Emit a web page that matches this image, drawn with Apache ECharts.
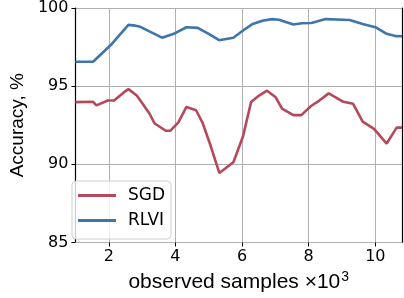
<!DOCTYPE html>
<html>
<head>
<meta charset="utf-8">
<script src="https://cdn.jsdelivr.net/npm/echarts@6/dist/echarts.min.js"></script>
<style>html,body{margin:0;padding:0;background:#fff}#c{width:404px;height:298px}</style>
</head>
<body>
<div id="c"></div>
<script>
const xTicks = [2, 4, 6, 8, 10];
const sgdX = [1.0, 1.53, 1.63, 1.97, 2.16, 2.45, 2.59, 2.84, 2.98, 3.22, 3.37, 3.71, 3.85, 4.09, 4.33, 4.62, 4.82, 5.06, 5.32, 5.74, 6.03, 6.27, 6.51, 6.75, 7.01, 7.2, 7.54, 7.78, 8.07, 8.32, 8.6, 9.04, 9.33, 9.62, 9.96, 10.34, 10.64, 10.8];
const sgdY = [93.98, 94.0, 93.77, 94.08, 94.08, 94.6, 94.81, 94.4, 93.98, 93.25, 92.63, 92.15, 92.15, 92.69, 93.67, 93.46, 92.63, 91.17, 89.44, 90.13, 91.8, 93.98, 94.4, 94.71, 94.29, 93.56, 93.15, 93.15, 93.73, 94.08, 94.54, 94.0, 93.88, 92.73, 92.27, 91.33, 92.35, 92.35];
const rlviX = [1.0, 1.53, 2.06, 2.59, 2.8, 2.93, 3.22, 3.6, 3.95, 4.33, 4.67, 5.0, 5.31, 5.74, 6.03, 6.32, 6.61, 6.9, 7.11, 7.54, 7.79, 8.08, 8.51, 9.23, 9.62, 10.0, 10.34, 10.63, 10.8];
const rlviY = [96.56, 96.56, 97.63, 98.92, 98.87, 98.81, 98.5, 98.1, 98.35, 98.77, 98.73, 98.35, 97.94, 98.1, 98.56, 98.98, 99.19, 99.29, 99.25, 98.94, 99.02, 99.04, 99.29, 99.23, 98.98, 98.77, 98.35, 98.2, 98.19];

const font = 'DejaVu Sans';
const nameFont = 'Liberation Sans';
const pair = (xs, ys) => xs.map((x, i) => [x, ys[i]]);
const chart = echarts.init(document.getElementById('c'), null, {renderer: 'canvas'});
chart.setOption({
  animation: false,
  textStyle: {fontFamily: font},
  grid: {left: 63, top: 7, right: 2, bottom: 52},
  xAxis: {
    type: 'value', min: 1, max: 10.8,
    name: 'observed samples ×10{sup|3}',
    nameLocation: 'middle', nameGap: 28,
    nameTextStyle: {fontFamily: nameFont, fontSize: 21, color: '#000',
      rich: {sup: {fontFamily: nameFont, fontSize: 14, color: '#000', verticalAlign: 'top', padding: [0, 0, 10, 1]}}},
    axisLine: {show: true, lineStyle: {color: '#b0b0b0', width: 1}},
    axisTick: {show: true, length: 4, customValues: xTicks, lineStyle: {color: '#000', width: 1}},
    axisLabel: {customValues: xTicks, fontFamily: font, fontSize: 16, color: '#000', margin: 6},
    splitLine: {show: true, lineStyle: {color: '#b0b0b0', width: 1}}
  },
  yAxis: [{
    type: 'value', min: 85, max: 100, interval: 5,
    name: 'Accuracy, %', nameLocation: 'middle', nameGap: 43,
    nameTextStyle: {fontFamily: nameFont, fontSize: 19, color: '#000'},
    axisLine: {show: true, lineStyle: {color: '#000', width: 1.2}},
    axisTick: {show: true, length: 4, lineStyle: {color: '#000', width: 1}},
    axisLabel: {fontFamily: font, fontSize: 16, color: '#000', margin: 7},
    splitLine: {show: true, lineStyle: {color: '#b0b0b0', width: 1}}
  }, {
    type: 'value', min: 85, max: 100, interval: 5, position: 'right',
    axisLine: {show: true, lineStyle: {color: '#000', width: 1.2}},
    axisTick: {show: false}, axisLabel: {show: false}, splitLine: {show: false}
  }],
  legend: {
    orient: 'vertical', left: 72, top: 181,
    padding: [6, 6, 10, 6], itemGap: 8,
    itemWidth: 38, itemHeight: 3, icon: 'rect',
    borderColor: '#d0d0d0', borderWidth: 1, borderRadius: 4,
    backgroundColor: 'rgba(255,255,255,0.8)',
    textStyle: {fontFamily: font, fontSize: 17, color: '#000', lineHeight: 17, padding: [0, 0, 0, 7]},
    data: ['SGD', 'RLVI']
  },
  series: [
    {name: 'SGD', type: 'line', data: pair(sgdX, sgdY), showSymbol: false, symbol: 'none',
     lineStyle: {color: '#b5495b', width: 2.6}, itemStyle: {color: '#b5495b'}},
    {name: 'RLVI', type: 'line', data: pair(rlviX, rlviY), showSymbol: false, symbol: 'none',
     lineStyle: {color: '#3f74ac', width: 2.6}, itemStyle: {color: '#3f74ac'}}
  ]
});
</script>
</body>
</html>
